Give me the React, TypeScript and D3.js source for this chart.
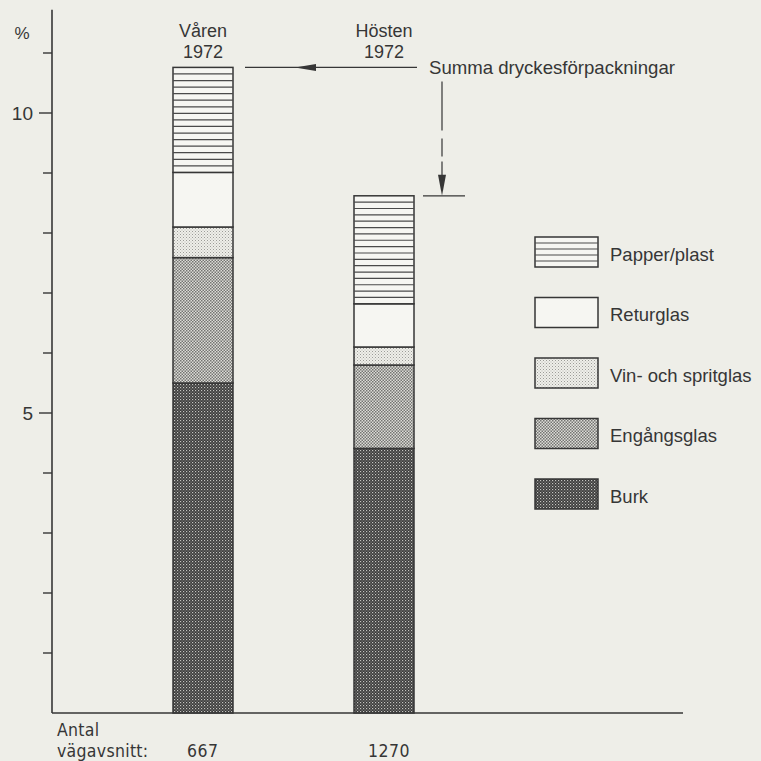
import * as d3 from "d3";
import { useEffect } from "react";

// Andel dryckesförpackningar (%) per vägavsnitt
const seasons = ["Våren", "Hösten"];
const seasonYears = ["1972", "1972"];
const sampleCounts = ["667", "1270"];
const categories = ["Burk", "Engångsglas", "Vin- och spritglas", "Returglas", "Papper/plast"];
const burk = [5.5, 4.41];
const engangsglas = [2.09, 1.39];
const vinSpritglas = [0.51, 0.3];
const returglas = [0.91, 0.72];
const papperPlast = [1.75, 1.8];
const tickValues = [1, 2, 3, 4, 5, 6, 7, 8, 9, 10, 11];
const labeledTicks = [5, 10];

const W = 761;
const H = 761;
const BG = "#eeeee8";
const INK = "#363636";
const FONT = "'Liberation Sans', Arial, Helvetica, sans-serif";
const NARROW = "'Liberation Sans Narrow', 'DejaVu Sans Condensed', 'Arial Narrow', sans-serif";

const fills: Record<string, string> = {
  "Burk": "url(#pBurk)",
  "Engångsglas": "url(#pEngang)",
  "Vin- och spritglas": "url(#pVin)",
  "Returglas": "#f6f6f2",
  "Papper/plast": "#f6f6f2",
};

export default function App() {
  useEffect(() => {
    document.body.style.margin = "0";
  }, []);

  const rows = seasons.map((s, i) => ({
    season: s,
    "Burk": burk[i],
    "Engångsglas": engangsglas[i],
    "Vin- och spritglas": vinSpritglas[i],
    "Returglas": returglas[i],
    "Papper/plast": papperPlast[i],
  }));
  const stacked = d3.stack<any>().keys(categories)(rows);

  const y = d3.scaleLinear().domain([0, 10]).range([713, 113]);
  const x = d3.scalePoint<string>().domain(seasons).range([203, 384]);
  const barW = 60;
  const axisX = 52;
  const baseY = y(0);
  const axisTop = 11.72;

  const totals = rows.map((_, i) => stacked[stacked.length - 1][i][1]);

  const hatch = (x0: number, x1: number, top: number, bottom: number, key: string) => {
    const n = Math.max(1, Math.round((bottom - top) / 6.5));
    const step = (bottom - top) / n;
    return d3.range(1, n).map((k) => (
      <line key={key + k} x1={x0} x2={x1} y1={top + k * step} y2={top + k * step} stroke="#4a4a4a" strokeWidth={1.2} />
    ));
  };

  const legendTop = 237;
  const legendGap = 60.5;
  const legendX = 535;
  const legendW = 63;
  const legendH = 30;
  const legendOrder = [...categories].reverse();

  const vY = y(totals[1]);
  const hY = y(totals[0]);

  return (
    <svg width={W} height={H} style={{ position: "absolute", left: 0, top: 0, display: "block" }}>
      <defs>
        <pattern id="pBurk" width={3} height={3} patternUnits="userSpaceOnUse">
          <rect width={3} height={3} fill="#3a3a3a" />
          <rect x={0} y={0} width={1.2} height={1.2} fill="#c4c4c0" />
          <rect x={1.5} y={1.5} width={1.2} height={1.2} fill="#8a8a88" />
        </pattern>
        <pattern id="pEngang" width={3} height={3} patternUnits="userSpaceOnUse">
          <rect width={3} height={3} fill="#dcdcd7" />
          <rect x={0} y={0} width={1.5} height={1.5} fill="#747472" />
          <rect x={1.5} y={1.5} width={1.5} height={1.5} fill="#747472" />
        </pattern>
        <pattern id="pVin" width={3} height={3} patternUnits="userSpaceOnUse">
          <rect width={3} height={3} fill="#efefea" />
          <rect x={0} y={0} width={1} height={1} fill="#9c9c98" />
          <rect x={1.5} y={1.5} width={1} height={1} fill="#b4b4b0" />
        </pattern>
      </defs>
      <rect width={W} height={H} fill={BG} />

      {/* axes */}
      <line x1={axisX} x2={axisX} y1={y(axisTop)} y2={baseY} stroke={INK} strokeWidth={1.6} />
      <line x1={axisX} x2={683} y1={baseY} y2={baseY} stroke={INK} strokeWidth={1.6} />
      {tickValues.map((t) => (
        <line key={"t" + t} x1={labeledTicks.includes(t) ? axisX - 13 : axisX - 9} x2={axisX} y1={y(t)} y2={y(t)} stroke={INK} strokeWidth={1.4} />
      ))}
      {labeledTicks.map((t) => (
        <text key={"l" + t} x={33} y={y(t)} dy="0.36em" textAnchor="end" fontFamily={FONT} fontSize={19} fill={INK}>{t}</text>
      ))}
      <text x={22} y={39} textAnchor="middle" fontFamily={FONT} fontSize={17} fill={INK}>%</text>

      {/* bars */}
      {stacked.map((layer) =>
        layer.map((d, i) => {
          const cx = x(seasons[i])!;
          const x0 = cx - barW / 2;
          const top = y(d[1]);
          const bottom = y(d[0]);
          return (
            <g key={layer.key + i}>
              <rect x={x0} y={top} width={barW} height={bottom - top} fill={fills[layer.key]} stroke={INK} strokeWidth={1.5} />
              {layer.key === "Papper/plast" && hatch(x0, x0 + barW, top, bottom, "h" + i)}
            </g>
          );
        })
      )}

      {/* season labels */}
      {seasons.map((s, i) => (
        <g key={"s" + s}>
          <text x={x(s)!} y={37} textAnchor="middle" fontFamily={FONT} fontSize={18} fill={INK}>{s}</text>
          <text x={x(s)!} y={58} textAnchor="middle" fontFamily={FONT} fontSize={18} fill={INK}>{seasonYears[i]}</text>
        </g>
      ))}

      {/* annotation */}
      <line x1={245} x2={417} y1={hY} y2={hY} stroke={INK} strokeWidth={1.2} />
      <path d={`M295,${hY} L316,${hY - 3.5} L316,${hY + 3.5} Z`} fill={INK} />
      <text x={429} y={hY} dy="0.36em" fontFamily={FONT} fontSize={18.6} fill={INK}>Summa dryckesförpackningar</text>
      <line x1={442} x2={442} y1={hY + 14} y2={vY - 20} stroke={INK} strokeWidth={1.2} strokeDasharray="49 8 18 5 40" />
      <path d={`M442,${vY} L438,${vY - 21} L446,${vY - 21} Z`} fill={INK} />
      <line x1={423} x2={465} y1={vY} y2={vY} stroke={INK} strokeWidth={1.2} />

      {/* legend */}
      {legendOrder.map((c, i) => {
        const ty = legendTop + i * legendGap;
        return (
          <g key={"lg" + c}>
            <rect x={legendX} y={ty} width={legendW} height={legendH} fill={fills[c]} stroke={INK} strokeWidth={1.5} />
            {c === "Papper/plast" && hatch(legendX, legendX + legendW, ty, ty + legendH, "lh")}
            <text x={610} y={ty + legendH / 2 + 2} dy="0.36em" fontFamily={FONT} fontSize={18.5} fill={INK}>{c}</text>
          </g>
        );
      })}

      {/* antal vägavsnitt */}
      <text x={57} y={736} fontFamily={NARROW} fontSize={17.5} letterSpacing={0.3} fill={INK}>Antal</text>
      <text x={57} y={757} fontFamily={NARROW} fontSize={17.5} letterSpacing={0.3} fill={INK}>vägavsnitt:</text>
      {seasons.map((s, i) => (
        <text key={"n" + s} x={x(s)! - 16} y={757} fontFamily={NARROW} fontSize={17.5} letterSpacing={0.5} fill={INK}>{sampleCounts[i]}</text>
      ))}
    </svg>
  );
}
